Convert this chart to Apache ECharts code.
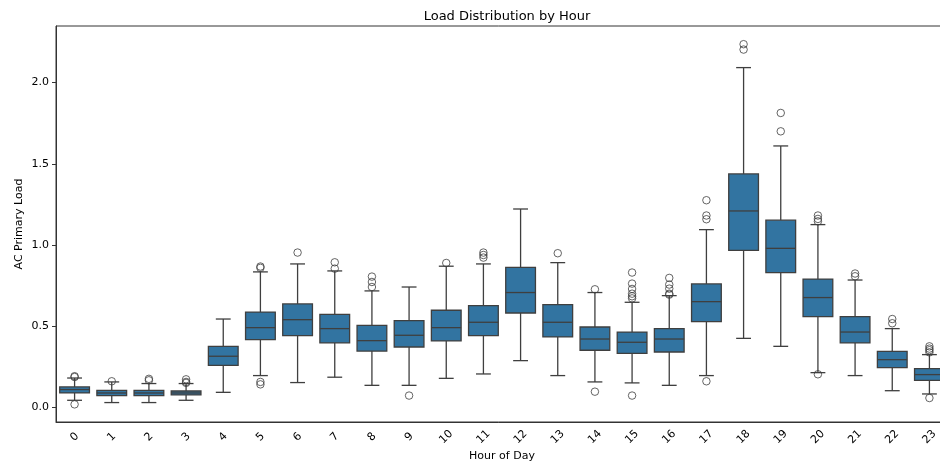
<!DOCTYPE html>
<html>
<head>
<meta charset="utf-8">
<script src="https://cdn.jsdelivr.net/npm/echarts@6/dist/echarts.min.js"></script>
<style>
  html, body { margin: 0; padding: 0; background: #fff; }
  #chart { width: 940px; height: 463px; }
</style>
</head>
<body>
<div id="chart"></div>
<script>
// Hourly load distribution: five-number summaries per hour plus outliers
const hours = ['0','1','2','3','4','5','6','7','8','9','10','11','12','13','14','15','16','17','18','19','20','21','22','23'];
const whiskerLow  = [0.045,0.031,0.031,0.045,0.094,0.197,0.154,0.187,0.137,0.137,0.180,0.207,0.289,0.197,0.158,0.152,0.137,0.197,0.426,0.377,0.215,0.197,0.104,0.084];
const q1          = [0.090,0.074,0.074,0.078,0.260,0.418,0.443,0.398,0.348,0.373,0.410,0.443,0.582,0.435,0.353,0.334,0.342,0.529,0.968,0.831,0.560,0.398,0.246,0.168];
const median      = [0.111,0.090,0.090,0.090,0.316,0.492,0.541,0.486,0.412,0.445,0.492,0.525,0.708,0.525,0.422,0.402,0.422,0.652,1.210,0.980,0.677,0.465,0.295,0.203];
const q3          = [0.127,0.106,0.106,0.102,0.377,0.588,0.638,0.574,0.506,0.535,0.599,0.628,0.863,0.634,0.496,0.465,0.486,0.761,1.438,1.153,0.791,0.560,0.346,0.240];
const whiskerHigh = [0.182,0.158,0.148,0.148,0.545,0.835,0.884,0.841,0.718,0.742,0.870,0.884,1.222,0.892,0.708,0.648,0.689,1.095,2.092,1.610,1.126,0.785,0.486,0.326];
// Outliers as [hour index, value]
const outliers = [
  [0,0.193],[0,0.188],[0,0.020],
  [1,0.162],
  [2,0.177],[2,0.168],
  [3,0.174],[3,0.158],[3,0.152],
  [5,0.868],[5,0.860],[5,0.158],[5,0.143],
  [6,0.954],
  [7,0.894],[7,0.855],
  [8,0.806],[8,0.773],[8,0.742],
  [9,0.074],
  [10,0.890],
  [11,0.954],[11,0.939],[11,0.923],
  [13,0.950],
  [14,0.728],[14,0.098],
  [15,0.831],[15,0.763],[15,0.730],[15,0.701],[15,0.685],[15,0.672],[15,0.074],
  [16,0.798],[16,0.757],[16,0.732],[16,0.701],[16,0.695],
  [17,1.276],[17,1.182],[17,1.159],[17,0.162],
  [18,2.236],[18,2.203],
  [19,1.813],[19,1.700],
  [20,1.182],[20,1.161],[20,1.146],[20,0.205],
  [21,0.825],[21,0.808],
  [22,0.545],[22,0.519],
  [23,0.377],[23,0.363],[23,0.353],[23,0.340],[23,0.059]
];
const yTicks = [0, 0.5, 1.0, 1.5, 2.0];

const FONT = 'DejaVu Sans';
const BOX_FILL = '#3274a1';
const LINE = '#3f3f3f';

const boxData = hours.map((h, i) => [i, whiskerLow[i], q1[i], median[i], q3[i], whiskerHigh[i]]);

function renderBox(params, api) {
  const idx = api.value(0);
  const band = api.size([1, 0])[0];
  const boxW = band * 0.8;
  const capW = boxW * 0.5;
  const pLow = api.coord([idx, api.value(1)]);
  const pQ1 = api.coord([idx, api.value(2)]);
  const pMed = api.coord([idx, api.value(3)]);
  const pQ3 = api.coord([idx, api.value(4)]);
  const pHigh = api.coord([idx, api.value(5)]);
  const cx = pMed[0];
  const lineStyle = { stroke: LINE, lineWidth: 1.3, fill: null };
  return {
    type: 'group',
    children: [
      { type: 'line', shape: { x1: cx, y1: pQ3[1], x2: cx, y2: pHigh[1] }, style: lineStyle },
      { type: 'line', shape: { x1: cx, y1: pQ1[1], x2: cx, y2: pLow[1] }, style: lineStyle },
      { type: 'line', shape: { x1: cx - capW / 2, y1: pHigh[1], x2: cx + capW / 2, y2: pHigh[1] }, style: lineStyle },
      { type: 'line', shape: { x1: cx - capW / 2, y1: pLow[1], x2: cx + capW / 2, y2: pLow[1] }, style: lineStyle },
      { type: 'rect', shape: { x: cx - boxW / 2, y: pQ3[1], width: boxW, height: pQ1[1] - pQ3[1] },
        style: { fill: BOX_FILL, stroke: LINE, lineWidth: 1.3 } },
      { type: 'line', shape: { x1: cx - boxW / 2, y1: pMed[1], x2: cx + boxW / 2, y2: pMed[1] }, style: lineStyle }
    ]
  };
}

const chart = echarts.init(document.getElementById('chart'), null, { renderer: 'canvas' });
chart.setOption({
  animation: false,
  backgroundColor: '#ffffff',
  textStyle: { fontFamily: FONT },
  title: {
    text: 'Load Distribution by Hour',
    left: 502, top: 5, textAlign: 'center',
    textStyle: { fontFamily: FONT, fontSize: 13, fontWeight: 'normal', color: '#000' }
  },
  grid: {
    left: 56, top: 26, width: 892, height: 396,
    containLabel: false,
    outerBoundsMode: 'none',
    show: true, borderColor: '#333', borderWidth: 1, backgroundColor: 'transparent'
  },
  xAxis: {
    type: 'category',
    data: hours,
    boundaryGap: true,
    name: 'Hour of Day',
    nameLocation: 'middle',
    nameGap: 29,
    nameMoveOverlap: false,
    nameTextStyle: { fontFamily: FONT, fontSize: 11, color: '#000' },
    axisLine: { onZero: false, lineStyle: { color: '#333', width: 1 } },
    axisTick: { alignWithLabel: true, length: 4, lineStyle: { color: '#333' } },
    axisLabel: {
      rotate: 45, fontFamily: FONT, fontSize: 11, color: '#000', margin: 15,
      align: 'center', verticalAlign: 'middle', interval: 0
    },
    splitLine: { show: false }
  },
  yAxis: {
    type: 'value',
    min: -0.0886, max: 2.348,
    name: 'AC Primary Load',
    nameLocation: 'middle',
    nameGap: 31,
    nameMoveOverlap: false,
    nameRotate: 90,
    nameTextStyle: { fontFamily: FONT, fontSize: 11, color: '#000' },
    axisLine: { show: true, lineStyle: { color: '#333', width: 1 } },
    axisTick: { show: true, length: 4, lineStyle: { color: '#333' }, customValues: yTicks },
    axisLabel: {
      fontFamily: FONT, fontSize: 11, color: '#000', margin: 7,
      customValues: yTicks,
      formatter: v => v.toFixed(1)
    },
    splitLine: { show: false }
  },
  series: [
    {
      type: 'custom',
      renderItem: renderBox,
      encode: { x: 0, y: [1, 2, 3, 4, 5] },
      data: boxData,
      z: 2
    },
    {
      type: 'scatter',
      data: outliers,
      symbol: 'circle',
      symbolSize: 7.5,
      itemStyle: { color: 'rgba(0,0,0,0)', borderColor: LINE, borderWidth: 1 },
      z: 3
    }
  ]
});
</script>
</body>
</html>
